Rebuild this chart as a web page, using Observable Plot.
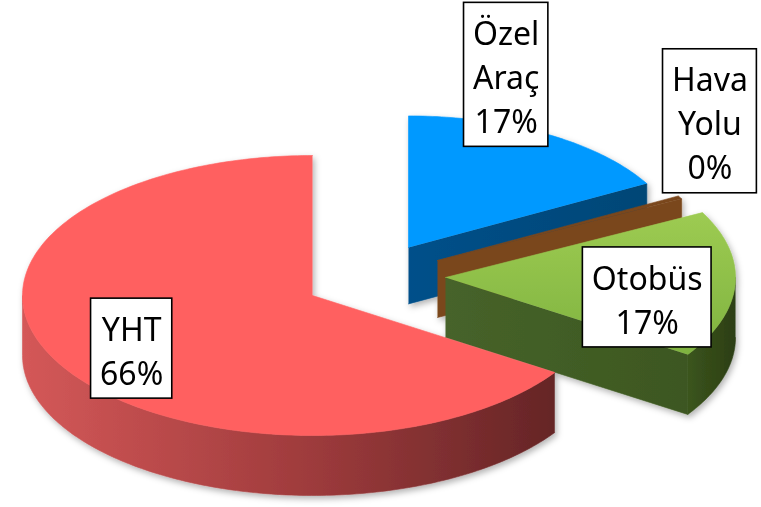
<!DOCTYPE html>
<html><head><meta charset="utf-8">
<script src="https://cdn.jsdelivr.net/npm/d3@7"></script>
<script src="https://cdn.jsdelivr.net/npm/@observablehq/plot@0.6"></script>
<style>body{margin:0;background:#fff} svg{display:block}</style>
</head><body><div id="chart"></div>
<script>
// ---- data ----
const categories = ["Özel Araç", "Hava Yolu", "Otobüs", "YHT"];
const values = [17, 0.4, 17, 66];
const labelNames = ["Özel\nAraç", "Hava\nYolu", "Otobüs", "YHT"];

// ---- layout / style ----
const W = 761, H = 507;
const C = {cx: 312, cy: 295, rx: 290, ry: 140, depth: 60};
const FONT = 32, LH = 44, PADX = 9, PADY = 6;
const layout = {
  "Özel Araç": {dx: 96, dy: -48, s: 0.94, top: "#0099FF", side: "#03497D", face: "url(#blueFace)", lr: 1.36, la: -15.2},
  "Hava Yolu": {dx: 125, dy: -35, s: 0.95, top: "#7A461C", side: "#6A3C17", face: "#7A461C", lr: 1.44, la: -18.3},
  "Otobüs":    {dx: 133, dy: -18, s: 1.0, top: "url(#greenTop)", side: "url(#greenSide)", face: "url(#greenFace)", lr: 0.71, la: 8.7},
  "YHT":       {dx: 0, dy: 0, s: 1.0, top: "#FF6161", side: "url(#redSide)", face: "#A03C3C", lr: 0.73, la: -3}
};

const total = d3.sum(values);
let cum = 0;
const slices = categories.map((c, i) => {
  const a0 = cum / total * 360; cum += values[i]; const a1 = cum / total * 360;
  return {c, name: labelNames[i], v: values[i], a0, a1, pct: Math.round(values[i] / total * 100), ...layout[c]};
});
const rad = d => d * Math.PI / 180;
const pt = (s, th, down = 0, r = 1) => ({
  x: C.cx + s.dx + s.s * C.rx * r * Math.sin(rad(th)),
  y: C.cy + s.dy - s.s * C.ry * r * Math.cos(rad(th)) + down * s.s * C.depth
});
const apex = (s, down) => ({x: C.cx + s.dx, y: C.cy + s.dy + down * s.s * C.depth});
const arc = (s, t0, t1, down) => {
  const n = Math.max(2, Math.ceil(Math.abs(t1 - t0)));
  return d3.range(n + 1).map(k => pt(s, t0 + (t1 - t0) * k / n, down));
};

const polys = [];
slices.forEach(s => {
  const f0 = Math.max(s.a0, 90), f1 = Math.min(s.a1, 270);
  if (f1 > f0) polys.push({fill: s.side, pts: [...arc(s, f0, f1, 0), ...arc(s, f1, f0, 1)]});
  if (Math.sin(rad(s.a1)) > 1e-9) polys.push({fill: s.face, pts: [apex(s, 0), pt(s, s.a1, 0), pt(s, s.a1, 1), apex(s, 1)]});
  if (Math.sin(rad(s.a0)) < -1e-9) polys.push({fill: s.face, pts: [apex(s, 0), pt(s, s.a0, 0), pt(s, s.a0, 1), apex(s, 1)]});
  polys.push({fill: s.top, pts: [apex(s, 0), ...arc(s, s.a0, s.a1, 0)]});
});

// label boxes
const ctx = document.createElement("canvas").getContext("2d");
ctx.font = `${FONT}px "Noto Sans"`;
const labels = slices.map(s => {
  const text = `${s.name}\n${s.pct}%`;
  const lines = text.split("\n");
  const w = d3.max(lines, l => ctx.measureText(l).width) + 2 * PADX;
  const h = lines.length * LH + 2 * PADY;
  const m = (s.a0 + s.a1) / 2 + s.la;
  const p = pt(s, m, 0, s.lr);
  return {text, x: p.x, y: p.y, x1: p.x - w / 2, x2: p.x + w / 2, y1: p.y - h / 2, y2: p.y + h / 2};
});

const marks = polys.map(p => Plot.line(p.pts, {x: "x", y: "y", fill: p.fill, stroke: p.fill, strokeWidth: 0.6}));
marks.push(Plot.rect(labels, {x1: "x1", x2: "x2", y1: "y1", y2: "y2", fill: "white", stroke: "black", strokeWidth: 1.6}));
marks.push(Plot.text(labels, {x: "x", y: "y", text: "text", fontSize: FONT, lineHeight: LH / FONT, fill: "black"}));

const chart = Plot.plot({
  width: W, height: H, margin: 0,
  style: {fontFamily: '"Noto Sans", sans-serif', background: "white"},
  x: {domain: [0, W], range: [0, W], axis: null},
  y: {domain: [0, H], range: [0, H], axis: null},
  marks
});
d3.select(chart).insert("defs", ":first-child").html(`
  <filter id="shadow" x="-10%" y="-10%" width="120%" height="130%">
    <feDropShadow dx="2" dy="3" stdDeviation="3" flood-color="#000" flood-opacity="0.3"/>
  </filter>
  <linearGradient id="redSide" x1="0" x2="1" y1="0" y2="0">
    <stop offset="0" stop-color="#D45858"/><stop offset="0.54" stop-color="#9E3B3C"/><stop offset="1" stop-color="#652526"/>
  </linearGradient>
  <linearGradient id="blueFace" x1="0" x2="1" y1="0" y2="0">
    <stop offset="0" stop-color="#05508A"/><stop offset="1" stop-color="#034676"/>
  </linearGradient>
  <linearGradient id="greenTop" x1="0" x2="0" y1="0" y2="1">
    <stop offset="0" stop-color="#9DCB52"/><stop offset="1" stop-color="#7FB33F"/>
  </linearGradient>
  <linearGradient id="greenFace" x1="0" x2="1" y1="0" y2="0">
    <stop offset="0" stop-color="#46632A"/><stop offset="1" stop-color="#3D5720"/>
  </linearGradient>
  <linearGradient id="greenSide" x1="0" x2="1" y1="0" y2="0">
    <stop offset="0" stop-color="#3B551C"/><stop offset="1" stop-color="#2C3E15"/>
  </linearGradient>`);
// group the slice faces so they share one soft drop shadow
const faceGroups = Array.from(chart.querySelectorAll(':scope > g[aria-label="line"]'));
if (faceGroups.length) {
  const wrap = document.createElementNS("http://www.w3.org/2000/svg", "g");
  wrap.setAttribute("filter", "url(#shadow)");
  chart.insertBefore(wrap, faceGroups[0]);
  faceGroups.forEach(g => wrap.appendChild(g));
}
document.getElementById("chart").appendChild(chart);
</script>
</body></html>
